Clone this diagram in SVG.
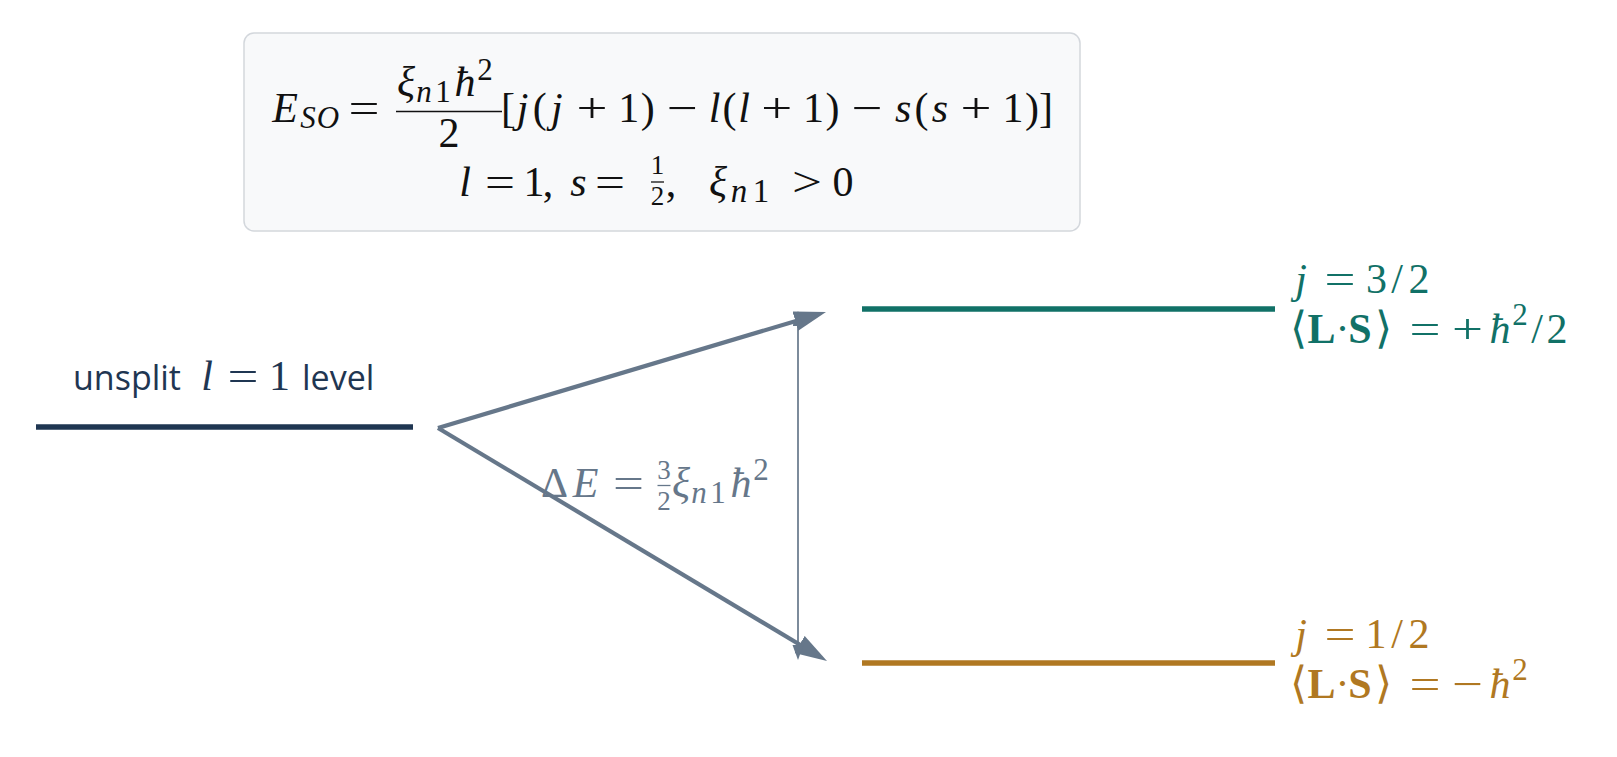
<svg xmlns="http://www.w3.org/2000/svg" width="1617" height="757" viewBox="0 0 1617 757">
<style>
.m{font-family:"Liberation Serif","DejaVu Serif",serif;font-size:42px;text-anchor:middle;}
.s{font-size:31px;}
.f{font-size:27px;}
.i{font-style:italic;}
.b{font-weight:bold;}
.br{font-family:"DejaVu Sans","Liberation Serif",sans-serif;font-size:44px;font-weight:200;}
.sans{font-family:"Open Sans","Liberation Sans",sans-serif;font-size:34px;}
.ink{fill:#111111;}
.gray{fill:#66778a;}
.teal{fill:#117167;}
.gold{fill:#b07822;}
.navy{fill:#1f3652;}
</style>
<defs>
<marker id="big" markerUnits="userSpaceOnUse" markerWidth="34" markerHeight="22" refX="20" refY="10" orient="auto">
<path d="M0,0 L32,10 L0,20 z" fill="#66778a"/>
</marker>
<marker id="small" markerUnits="userSpaceOnUse" markerWidth="16" markerHeight="12" refX="11" refY="5.5" orient="auto-start-reverse">
<path d="M0,0 L15,5.5 L0,11 z" fill="#66778a"/>
</marker>
</defs>
<rect width="1617" height="757" fill="#ffffff"/>

<g id="formula-box">
<rect x="244" y="33" width="836" height="198" rx="10" fill="#f8f9fa" stroke="#d3d7dc" stroke-width="1.5"/>
<text class="m ink" y="122"><tspan class="i" x="285">E</tspan><tspan class="i s" x="308" y="128">S</tspan><tspan class="i s" x="328" y="128">O</tspan></text>
<text class="m ink" x="364" y="122" textLength="31" lengthAdjust="spacingAndGlyphs">=</text>
<text class="m ink" y="96"><tspan class="i" x="406">ξ</tspan><tspan class="i s" x="424" y="102">n</tspan><tspan class="s" x="443" y="102">1</tspan><tspan class="i" x="465" y="96">ħ</tspan><tspan class="s" x="485" y="80">2</tspan></text>
<line x1="396" y1="111.5" x2="502" y2="111.5" stroke="#111111" stroke-width="1.7"/>
<text class="m ink" x="449" y="147">2</text>
<text class="m ink" y="122"><tspan x="508">[</tspan><tspan class="i" x="522.7">j</tspan><tspan x="539.8">(</tspan><tspan class="i" x="556.9">j</tspan></text>
<text class="m ink" x="591.9" y="122" textLength="31" lengthAdjust="spacingAndGlyphs">+</text>
<text class="m ink" y="122"><tspan x="628.7">1</tspan><tspan x="647.7">)</tspan></text>
<text class="m ink" x="682.2" y="122" textLength="31" lengthAdjust="spacingAndGlyphs">−</text>
<text class="m ink" y="122"><tspan class="i" x="714.7">l</tspan><tspan x="729.4">(</tspan><tspan class="i" x="744.1">l</tspan></text>
<text class="m ink" x="776.7" y="122" textLength="31" lengthAdjust="spacingAndGlyphs">+</text>
<text class="m ink" y="122"><tspan x="813.5">1</tspan><tspan x="832.5">)</tspan></text>
<text class="m ink" x="867" y="122" textLength="31" lengthAdjust="spacingAndGlyphs">−</text>
<text class="m ink" y="122"><tspan class="i" x="903.2">s</tspan><tspan x="921.5">(</tspan><tspan class="i" x="939.9">s</tspan></text>
<text class="m ink" x="976" y="122" textLength="31" lengthAdjust="spacingAndGlyphs">+</text>
<text class="m ink" y="122"><tspan x="1012.9">1</tspan><tspan x="1031.9">)</tspan><tspan x="1046.1">]</tspan></text>

<text class="m ink i" x="465" y="196">l</text>
<text class="m ink" x="500" y="196" textLength="30" lengthAdjust="spacingAndGlyphs">=</text>
<text class="m ink" y="196"><tspan x="534">1</tspan><tspan x="548">,</tspan></text>
<text class="m ink i" x="578.5" y="196">s</text>
<text class="m ink" x="610" y="196" textLength="30" lengthAdjust="spacingAndGlyphs">=</text>
<text class="m f ink" x="657.5" y="174">1</text>
<line x1="651" y1="182" x2="664" y2="182" stroke="#111111" stroke-width="1.3"/>
<text class="m f ink" x="657.5" y="205">2</text>
<text class="m ink" y="196"><tspan x="671">,</tspan><tspan class="i" x="718">ξ</tspan><tspan class="i" x="739" y="202" font-size="33">n</tspan><tspan x="761" y="202" font-size="33">1</tspan></text>
<text class="m ink" x="807" y="196" textLength="30" lengthAdjust="spacingAndGlyphs">&gt;</text>
<text class="m ink" x="843" y="196">0</text>
</g>

<g id="unsplit-level">
<line x1="36" y1="427" x2="413" y2="427" stroke="#1f3652" stroke-width="5.5"/>
<text class="sans navy" x="73" y="390">unsplit</text>
<text class="m navy i" x="207" y="390">l</text>
<text class="m navy" x="243" y="390" textLength="31" lengthAdjust="spacingAndGlyphs">=</text>
<text class="m navy" x="279.5" y="390">1</text>
<text class="sans navy" x="302" y="390">level</text>
</g>

<g id="level-j32">
<line x1="862" y1="309" x2="1275" y2="309" stroke="#117167" stroke-width="5.5"/>
<text class="m teal i" x="1301" y="293">j</text>
<text class="m teal" x="1340" y="293" textLength="31" lengthAdjust="spacingAndGlyphs">=</text>
<text class="m teal" y="293"><tspan x="1376.5">3</tspan><tspan x="1397">/</tspan><tspan x="1419">2</tspan></text>
<text class="m teal" y="343"><tspan class="br" x="1298">⟨</tspan><tspan class="b" x="1321.5">L</tspan><tspan x="1342.5">·</tspan><tspan class="b" x="1360">S</tspan><tspan class="br" x="1383.5">⟩</tspan></text>
<text class="m teal" x="1425" y="343" textLength="31" lengthAdjust="spacingAndGlyphs">=</text>
<text class="m teal" x="1467.5" y="343" textLength="31" lengthAdjust="spacingAndGlyphs">+</text>
<text class="m teal" y="343"><tspan class="i" x="1500">ħ</tspan><tspan class="s" x="1520" y="325">2</tspan><tspan x="1537" y="343">/</tspan><tspan x="1557">2</tspan></text>
</g>

<g id="level-j12">
<line x1="862" y1="663" x2="1275" y2="663" stroke="#b07822" stroke-width="5.5"/>
<text class="m gold i" x="1301" y="648">j</text>
<text class="m gold" x="1340" y="648" textLength="31" lengthAdjust="spacingAndGlyphs">=</text>
<text class="m gold" y="648"><tspan x="1376">1</tspan><tspan x="1397">/</tspan><tspan x="1419">2</tspan></text>
<text class="m gold" y="698"><tspan class="br" x="1298">⟨</tspan><tspan class="b" x="1321.5">L</tspan><tspan x="1342.5">·</tspan><tspan class="b" x="1360">S</tspan><tspan class="br" x="1383.5">⟩</tspan></text>
<text class="m gold" x="1425" y="698" textLength="31" lengthAdjust="spacingAndGlyphs">=</text>
<text class="m gold" x="1467.5" y="698" textLength="31" lengthAdjust="spacingAndGlyphs">−</text>
<text class="m gold" y="698"><tspan class="i" x="1500">ħ</tspan><tspan class="s" x="1520" y="680">2</tspan></text>
</g>

<g id="connectors">
<line x1="438" y1="428" x2="814.5" y2="315.4" stroke="#66778a" stroke-width="4.2" marker-end="url(#big)"/>
<line x1="438" y1="428" x2="816.7" y2="654.8" stroke="#66778a" stroke-width="4.2" marker-end="url(#big)"/>
<line x1="798" y1="315" x2="798" y2="656" stroke="#66778a" stroke-width="1.7" marker-start="url(#small)" marker-end="url(#small)"/>
</g>

<g id="delta-label">
<text class="m gray" y="497"><tspan x="554.5">Δ</tspan><tspan class="i" x="585.5">E</tspan></text>
<text class="m gray" x="628.5" y="497" textLength="31" lengthAdjust="spacingAndGlyphs">=</text>
<text class="m f gray" x="664" y="479">3</text>
<line x1="657.5" y1="485.5" x2="670.5" y2="485.5" stroke="#66778a" stroke-width="1.3"/>
<text class="m f gray" x="664" y="510">2</text>
<text class="m gray" y="497"><tspan class="i" x="681">ξ</tspan><tspan class="i s" x="699" y="503">n</tspan><tspan class="s" x="718" y="503">1</tspan><tspan class="i" x="741" y="497">ħ</tspan><tspan class="s" x="761" y="480">2</tspan></text>
</g>
</svg>
